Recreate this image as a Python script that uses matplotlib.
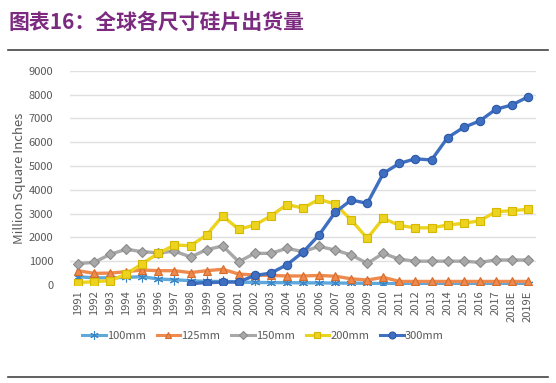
import matplotlib
matplotlib.use("Agg")
import matplotlib.pyplot as plt
from matplotlib.lines import Line2D

plt.rcParams['font.family'] = ['Noto Sans CJK SC', 'DejaVu Sans']

years = ['1991', '1992', '1993', '1994', '1995', '1996', '1997', '1998', '1999', '2000',
         '2001', '2002', '2003', '2004', '2005', '2006', '2007', '2008', '2009', '2010',
         '2011', '2012', '2013', '2014', '2015', '2016', '2017', '2018E', '2019E']

mm100 = [350, 300, 300, 320, 350, 250, 220, 180, 150, 150,
         120, 110, 100, 100, 90, 90, 80, 80, 70, 60,
         50, 50, 50, 50, 50, 50, 50, 50, 50]
mm125 = [600, 490, 500, 560, 630, 600, 600, 520, 600, 660,
         460, 420, 400, 380, 380, 400, 370, 260, 210, 320,
         150, 150, 150, 150, 150, 150, 150, 150, 150]
mm150 = [900, 950, 1290, 1500, 1400, 1350, 1420, 1180, 1480, 1640,
         980, 1330, 1330, 1540, 1400, 1620, 1470, 1260, 910, 1330,
         1080, 1000, 1000, 1000, 1000, 950, 1050, 1050, 1050]
mm200 = [100, 140, 180, 460, 900, 1330, 1680, 1650, 2100, 2900,
         2340, 2520, 2900, 3380, 3230, 3600, 3400, 2730, 1960, 2800,
         2500, 2400, 2400, 2520, 2590, 2700, 3080, 3120, 3180]
mm300 = [None, None, None, None, None, None, None, 60, 100, 120,
         130, 400, 500, 850, 1380, 2100, 3050, 3570, 3430, 4690,
         5110, 5300, 5250, 6190, 6620, 6890, 7380, 7560, 7900]

series = [
    ('100mm', mm100, '#5fa8dc', '#3d86c6', (6, 2, 0), 7),
    ('125mm', mm125, '#ee8a4d', '#d86a2a', '^', 6),
    ('150mm', mm150, '#a8a8a8', '#8a8a8a', 'D', 5),
    ('200mm', mm200, '#ecd320', '#d6b800', 's', 6),
    ('300mm', mm300, '#3f6fc0', '#2b58a8', 'o', 6),
]

fig = plt.figure(figsize=(5.56, 3.83), dpi=100)
ax = fig.add_axes([70 / 556, 1 - 285 / 383, 466 / 556, 214.3 / 383])

x = list(range(len(years)))
for name, vals, col, ecol, mk, ms in series:
    xs = [i for i, v in zip(x, vals) if v is not None]
    ys = [v for v in vals if v is not None]
    ax.plot(xs, ys, color=col, lw=2.4, marker=mk, ms=ms, mfc=col, mec=ecol,
            mew=0.8, label=name, zorder=3)

ax.set_xlim(-0.5, len(years) - 0.5)
ax.set_ylim(0, 9000)
ax.set_yticks(range(0, 9001, 1000))
ax.set_xticks(x)
ax.set_xticklabels(years, rotation=90)
ax.tick_params(axis='both', length=0, labelsize=8, colors='#595959')
ax.tick_params(axis='y', pad=12)
ax.tick_params(axis='x', pad=4)
ax.grid(axis='y', color='#e0e0e0', lw=1)
ax.set_axisbelow(True)
for s in ax.spines.values():
    s.set_visible(False)
ax.set_ylabel('Million Square Inches', fontsize=9.5, color='#595959', labelpad=2)

handles = [Line2D([0], [0], color=c, lw=2.2, marker=m, ms=s - 1, mfc=c, mec=e, mew=0.8)
           for _, _, c, e, m, s in series]
fig.legend(handles, [s[0] for s in series], loc='center', bbox_to_anchor=(263 / 556, 1 - 336 / 383),
           ncol=5, frameon=False, fontsize=8, handlelength=2.1, handletextpad=0.1,
           columnspacing=1.0, labelcolor='#595959')

fig.text(8 / 556, 1 - 22 / 383, '图表16：全球各尺寸硅片出货量', fontsize=15, fontweight='bold',
         color='#7b2a80', va='center', ha='left')
fig.add_artist(Line2D([8 / 556, 548 / 556], [1 - 50 / 383, 1 - 50 / 383], color='#444444', lw=1.2))
fig.add_artist(Line2D([8 / 556, 548 / 556], [1 - 377 / 383, 1 - 377 / 383], color='#444444', lw=1.2))

fig.savefig('out.png', dpi=100)
